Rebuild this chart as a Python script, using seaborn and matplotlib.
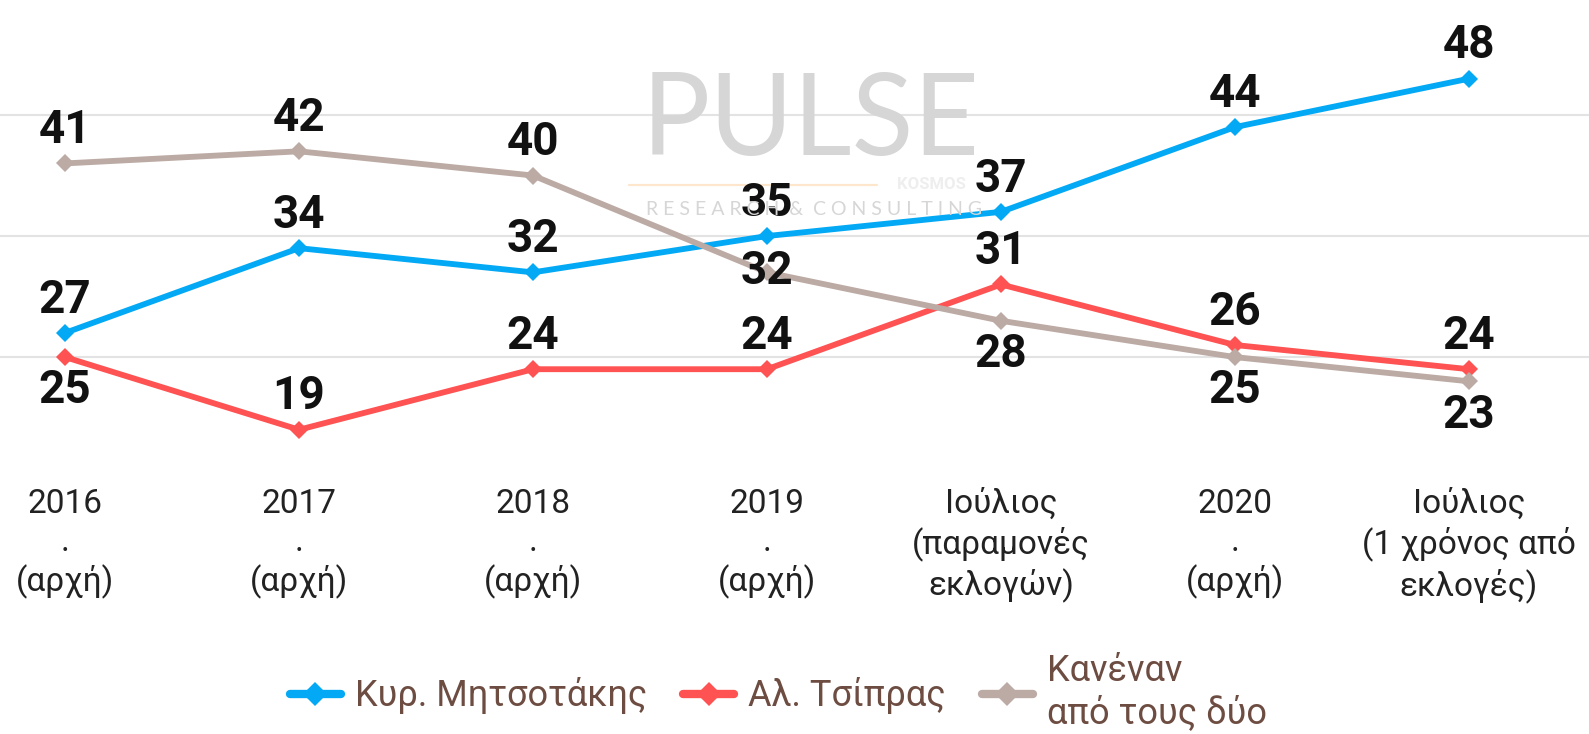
import matplotlib
matplotlib.use("Agg")
import matplotlib.pyplot as plt
from matplotlib.lines import Line2D
import seaborn as sns
import pandas as pd

categories = ["2016\n.\n(αρχή)", "2017\n.\n(αρχή)", "2018\n.\n(αρχή)", "2019\n.\n(αρχή)",
              "Ιούλιος\n(παραμονές\nεκλογών)", "2020\n.\n(αρχή)", "Ιούλιος\n(1 χρόνος από\nεκλογές)"]
series_names = ["Κυρ. Μητσοτάκης", "Αλ. Τσίπρας", "Κανέναν\nαπό τους δύο"]
mitsotakis = [27, 34, 32, 35, 37, 44, 48]
tsipras = [25, 19, 24, 24, 31, 26, 24]
kanenan = [41, 42, 40, 32, 28, 25, 23]
# label position: +1 above, -1 below, 0 on the point
pos_mitsotakis = [1, 1, 1, 1, 1, 1, 1]
pos_tsipras = [-1, 1, 1, 1, 1, 1, 1]
pos_kanenan = [1, 1, 1, 0, -1, -1, -1]
colors = ["#03A9F4", "#FF5252", "#BCAAA4"]

sns.set_theme(style="white")
plt.rcParams["font.family"] = ["Roboto", "DejaVu Sans"]

rows = []
for name, vals in zip(series_names, [mitsotakis, tsipras, kanenan]):
    for i, v in enumerate(vals):
        rows.append({"x": i, "value": v, "series": name})
df = pd.DataFrame(rows)

fig = plt.figure(figsize=(15.89, 7.34), dpi=100)
ax = fig.add_axes([0, 0.3733, 1, 0.6267])
ax.set_facecolor("none")

# watermark (logo decoration)
fig.text(0.510, 0.832, "PULSE", ha="center", va="center", fontsize=82,
         color="#d6d6d6", fontweight="normal", family="Lato", zorder=0)
fig.text(0.512, 0.714, "R E S E A R C H  &  C O N S U L T I N G", ha="center", va="center",
         fontsize=14, color="#d6d6d6", family="Lato", zorder=0)
fig.add_artist(Line2D([0.396, 0.552], [0.748, 0.748], color="#fde6cc", linewidth=1.5, zorder=0))
fig.text(0.586, 0.748, "KOSMOS", ha="center", va="center", fontsize=12,
         color="#eeeeee", fontweight="bold", family="Roboto", zorder=0)

sns.lineplot(data=df, x="x", y="value", hue="series", hue_order=series_names,
             palette=colors, style="series", markers={n: "D" for n in series_names},
             dashes=False, linewidth=4.2, markersize=9.5, markeredgewidth=0,
             ax=ax, zorder=3)

for vals, poss in zip([mitsotakis, tsipras, kanenan], [pos_mitsotakis, pos_tsipras, pos_kanenan]):
    for i, (v, p) in enumerate(zip(vals, poss)):
        ax.annotate(str(v), (i, v), xytext=(0, 24 * p if p else 1), textcoords="offset points",
                    ha="center", va="center", fontsize=33, fontweight="bold",
                    color="#111111", zorder=5)

ax.set_xlim(-0.278, 6.513)
ax.set_ylim(16.5, 54.5)
ax.set_yticks([25, 35, 45])
ax.set_yticklabels([])
ax.yaxis.grid(True, color="#e3e3e3", linewidth=1.5)
ax.xaxis.grid(False)
ax.set_axisbelow(True)
ax.set_xticks(range(len(categories)))
ax.set_xticklabels(categories, fontsize=24, color="#222222", linespacing=1.25)
ax.tick_params(axis="x", length=0, pad=20)
ax.tick_params(axis="y", length=0)
ax.set_xlabel("")
ax.set_ylabel("")
for s in ax.spines.values():
    s.set_visible(False)

handles, labels = ax.get_legend_handles_labels()
ax.get_legend().remove()
for h in handles:
    h.set_linewidth(6)
    h.set_markersize(12)
leg = fig.legend(handles, labels, loc="center", bbox_to_anchor=(0.49, 0.057), ncol=3,
                 frameon=False, fontsize=26, handlelength=1.4, handletextpad=0.4,
                 columnspacing=1.0, labelcolor="#6D4C41")

fig.savefig("out.png", dpi=100)
